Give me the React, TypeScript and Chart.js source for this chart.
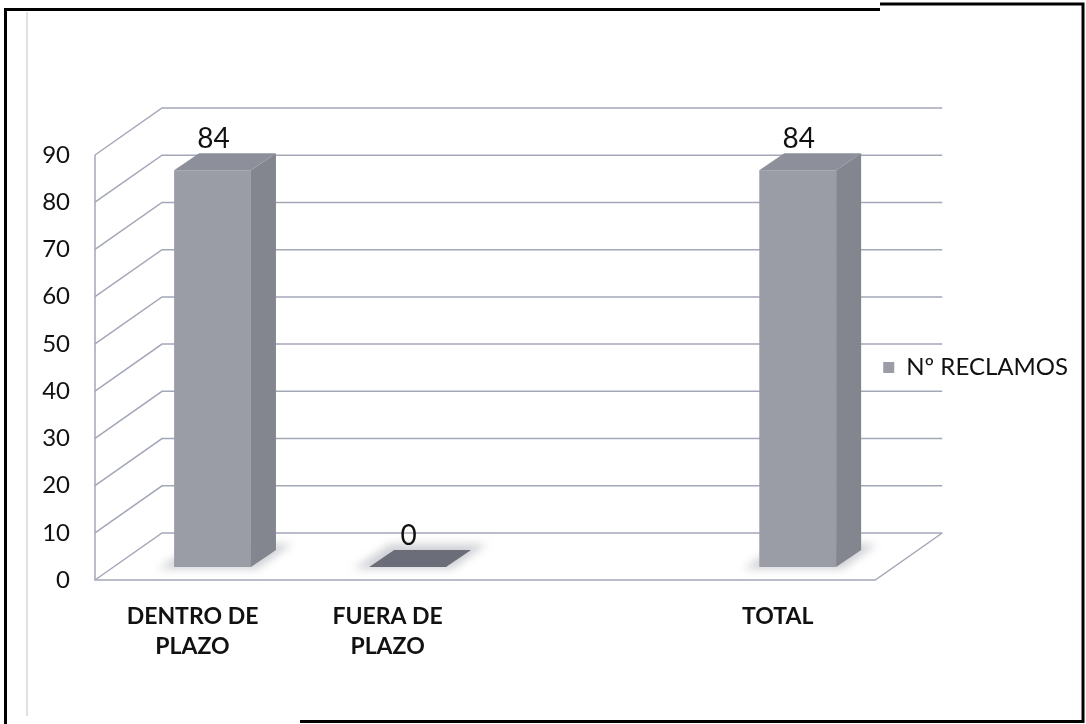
import React, { useEffect, useRef } from "react";
import { Chart, registerables } from "chart.js";

Chart.register(...registerables);

const categories: (string | string[])[] = [["DENTRO DE", "PLAZO"], ["FUERA DE", "PLAZO"], "", "TOTAL"];
const values: (number | null)[] = [84, 0, null, 84];
const seriesName = "Nº RECLAMOS";
const yMin = 0;
const yMax = 90;
const yStep = 10;

const FONT = "Lato, 'Open Sans', sans-serif";
const GRID = "#a4a7b8";
const FRONT = "#9a9ca6";
const SIDE = "#83858f";
const TOP = "#8d8f9a";
const FLAT = "#6b6d78";

// 3D geometry (pixels)
const WALL_DX = 67;
const WALL_DY = -47;
const BAR_SHIFT_X = 20;
const BAR_SHIFT_Y = -13;
const BAR_DX = 25;
const BAR_DY = -17;

const threeD = {
  id: "threeD",
  beforeDatasetsDraw(chart: any) {
    const { ctx, chartArea, scales } = chart;
    const { left, right, top, bottom } = chartArea;
    const y = scales.y;
    ctx.save();
    ctx.strokeStyle = GRID;
    ctx.lineWidth = 1.5;
    y.ticks.forEach((t: any) => {
      const py = y.getPixelForValue(t.value);
      ctx.beginPath();
      ctx.moveTo(left, py);
      ctx.lineTo(left + WALL_DX, py + WALL_DY);
      ctx.lineTo(right + WALL_DX, py + WALL_DY);
      ctx.stroke();
    });
    ctx.beginPath();
    ctx.moveTo(left, top);
    ctx.lineTo(left, bottom);
    ctx.lineTo(right, bottom);
    ctx.lineTo(right + WALL_DX, bottom + WALL_DY);
    ctx.stroke();

    // soft shadows on the floor
    const meta = chart.getDatasetMeta(0);
    meta.data.forEach((bar: any, i: number) => {
      if (values[i] === null || values[i] === undefined) return;
      const p = bar.getProps(["x", "y", "base", "width"], true);
      const l = p.x - p.width / 2 + BAR_SHIFT_X;
      const r = p.x + p.width / 2 + BAR_SHIFT_X;
      const b = p.base + BAR_SHIFT_Y;
      ctx.save();
      ctx.filter = "blur(4px)";
      ctx.fillStyle = "rgba(150,152,165,0.45)";
      ctx.beginPath();
      ctx.moveTo(l - 16, b + 2);
      ctx.lineTo(l - 16 + BAR_DX + 12, b + BAR_DY - 6);
      ctx.lineTo(r + BAR_DX + 16, b + BAR_DY - 6);
      ctx.lineTo(r + 6, b + 2);
      ctx.closePath();
      ctx.fill();
      ctx.restore();
    });
    ctx.restore();
    ctx.save();
    ctx.translate(BAR_SHIFT_X, BAR_SHIFT_Y);
  },
  afterDatasetsDraw(chart: any) {
    const { ctx } = chart;
    ctx.restore();
    ctx.save();
    const meta = chart.getDatasetMeta(0);
    meta.data.forEach((bar: any, i: number) => {
      const v = values[i];
      if (v === null || v === undefined) return;
      const p = bar.getProps(["x", "y", "base", "width"], true);
      const l = p.x - p.width / 2 + BAR_SHIFT_X;
      const r = p.x + p.width / 2 + BAR_SHIFT_X;
      const t = p.y + BAR_SHIFT_Y;
      const b = p.base + BAR_SHIFT_Y;
      if (b - t > 0.5) {
        ctx.fillStyle = SIDE;
        ctx.beginPath();
        ctx.moveTo(r, t);
        ctx.lineTo(r + BAR_DX, t + BAR_DY);
        ctx.lineTo(r + BAR_DX, b + BAR_DY);
        ctx.lineTo(r, b);
        ctx.closePath();
        ctx.fill();
      }
      ctx.fillStyle = b - t > 0.5 ? TOP : FLAT;
      ctx.beginPath();
      ctx.moveTo(l, t);
      ctx.lineTo(l + BAR_DX, t + BAR_DY);
      ctx.lineTo(r + BAR_DX, t + BAR_DY);
      ctx.lineTo(r, t);
      ctx.closePath();
      ctx.fill();

      ctx.fillStyle = "#111";
      ctx.font = `28px ${FONT}`;
      ctx.textAlign = "center";
      ctx.textBaseline = "alphabetic";
      ctx.fillText(String(v), p.x + BAR_SHIFT_X + 1, t + BAR_DY - 5);
    });
    ctx.restore();
  },
  afterDraw(chart: any) {
    const { ctx } = chart;
    ctx.save();
    ctx.strokeStyle = "#d6d6d6";
    ctx.lineWidth = 1.5;
    ctx.beginPath();
    ctx.moveTo(27, 12);
    ctx.lineTo(27, 716);
    ctx.stroke();
    ctx.strokeStyle = "#000";
    ctx.lineWidth = 3;
    ctx.beginPath();
    ctx.moveTo(5.5, 724);
    ctx.lineTo(5.5, 9.5);
    ctx.lineTo(880, 9.5);
    ctx.stroke();
    ctx.beginPath();
    ctx.moveTo(880, 4);
    ctx.lineTo(1083, 4);
    ctx.lineTo(1083, 721.5);
    ctx.lineTo(300, 721.5);
    ctx.stroke();
    ctx.restore();
  },
};

export default function App() {
  const ref = useRef<HTMLCanvasElement | null>(null);
  useEffect(() => {
    if (!ref.current) return;
    const chart = new Chart(ref.current, {
      type: "bar",
      data: {
        labels: categories,
        datasets: [
          {
            label: seriesName,
            data: values,
            backgroundColor: FRONT,
            borderWidth: 0,
            barPercentage: 0.394,
            categoryPercentage: 1,
          },
        ],
      },
      options: {
        responsive: false,
        animation: false,
        events: [],
        layout: { padding: { left: 0, top: 155, right: 8, bottom: 0 } },
        plugins: {
          tooltip: { enabled: false },
          legend: {
            position: "right",
            fullSize: false,
            labels: {
              boxWidth: 11,
              boxHeight: 11,
              color: "#111",
              font: { family: FONT, size: 24 },
              padding: 8,
            },
          },
        },
        scales: {
          x: {
            grid: { display: false, drawTicks: false },
            border: { display: false },
            ticks: {
              color: "#111",
              font: { family: FONT, size: 23, weight: "bold", lineHeight: 1.33 },
              padding: 21,
              maxRotation: 0,
              autoSkip: false,
            },
            afterFit: (s: any) => {
              s.height = 144;
            },
          },
          y: {
            min: yMin,
            max: yMax,
            grid: { display: false, drawTicks: false },
            border: { display: false },
            ticks: {
              stepSize: yStep,
              color: "#111",
              font: { family: FONT, size: 24 },
              padding: 25,
            },
            afterFit: (s: any) => {
              s.width = 95;
            },
          },
        },
      },
      plugins: [threeD],
    });
    return () => chart.destroy();
  }, []);
  return (
    <div style={{ position: "fixed", left: 0, top: 0, width: 1086, height: 724, background: "#fff" }}>
      <canvas ref={ref} width={1086} height={724} />
    </div>
  );
}
